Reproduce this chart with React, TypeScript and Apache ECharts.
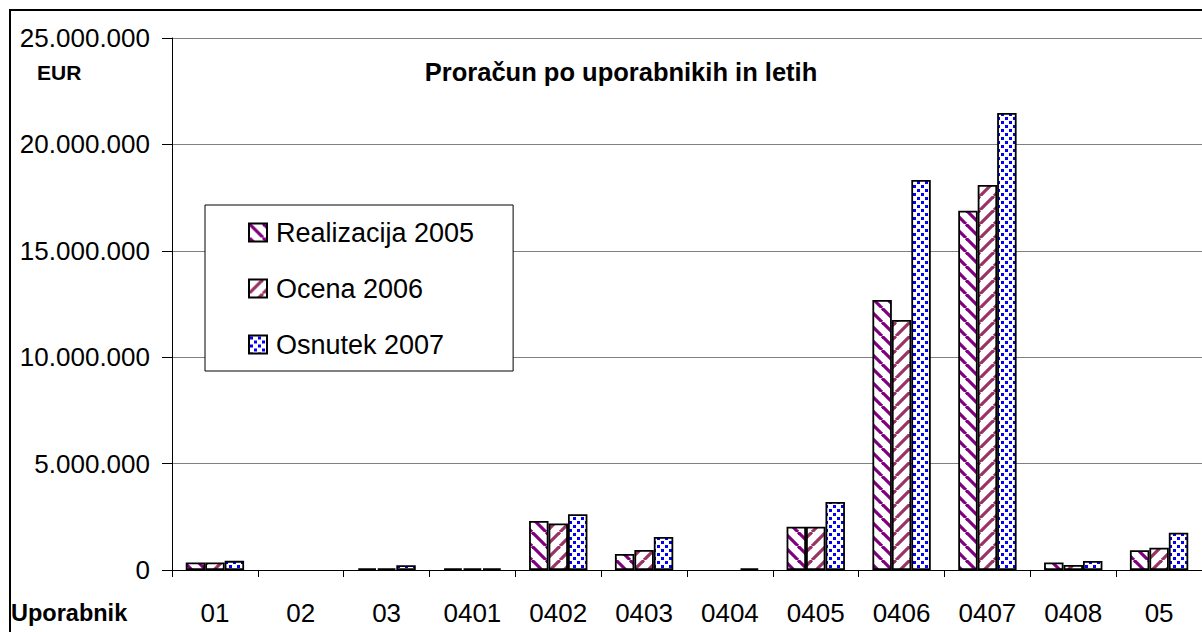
import React, { useEffect, useRef } from "react";
import * as echarts from "echarts";

const categories = ["01", "02", "03", "0401", "0402", "0403", "0404", "0405", "0406", "0407", "0408", "05"];
const realizacija2005 = [350000, 0, 80000, 80000, 2300000, 750000, 0, 2030000, 12690000, 16880000, 350000, 930000];
const ocena2006 = [350000, 0, 80000, 80000, 2190000, 940000, 0, 2030000, 11750000, 18090000, 240000, 1050000];
const osnutek2007 = [430000, 0, 220000, 80000, 2620000, 1550000, 80000, 3200000, 18330000, 21480000, 420000, 1750000];
const yTicks = [0, 5000000, 10000000, 15000000, 20000000, 25000000];
const seriesNames = ["Realizacija 2005", "Ocena 2006", "Osnutek 2007"];

const FONT = "'Liberation Sans', Arial, sans-serif";

function stripePattern(color: string, dir: "down" | "up") {
  const N = 14;
  const c = document.createElement("canvas");
  c.width = N;
  c.height = N;
  const ctx = c.getContext("2d")!;
  ctx.fillStyle = "#fff";
  ctx.fillRect(0, 0, N, N);
  ctx.strokeStyle = color;
  ctx.lineWidth = 3.2;
  for (let k = -1; k <= 1; k++) {
    ctx.beginPath();
    if (dir === "down") {
      ctx.moveTo(k * N, 0);
      ctx.lineTo(k * N + N, N);
    } else {
      ctx.moveTo(k * N, N);
      ctx.lineTo(k * N + N, 0);
    }
    ctx.stroke();
  }
  return { image: c, repeat: "repeat", imageWidth: N, imageHeight: N } as any;
}

function dotPattern(color: string) {
  const N = 8;
  const c = document.createElement("canvas");
  c.width = N;
  c.height = N;
  const ctx = c.getContext("2d")!;
  ctx.fillStyle = "#fff";
  ctx.fillRect(0, 0, N, N);
  ctx.fillStyle = color;
  ctx.fillRect(1, 1, 3, 3);
  ctx.fillRect(5, 5, 3, 3);
  return { image: c, repeat: "repeat", imageWidth: N, imageHeight: N } as any;
}

function fmt(v: number) {
  return String(Math.round(v)).replace(/\B(?=(\d{3})+(?!\d))/g, ".");
}

export default function App() {
  const ref = useRef<HTMLDivElement>(null);
  useEffect(() => {
    if (!ref.current) return;
    const chart = echarts.init(ref.current, null, { renderer: "svg" });
    const fills = [stripePattern("#800080", "down"), stripePattern("#993366", "up"), dotPattern("#0000ff")];
    const dataSets = [realizacija2005, ocena2006, osnutek2007];
    chart.setOption({
      animation: false,
      backgroundColor: "#fff",
      grid: { left: 172, top: 38, width: 1032, height: 532, containLabel: false },
      legend: {
        orient: "vertical",
        left: 205,
        top: 205,
        padding: [14, 39, 13, 43],
        itemWidth: 18,
        itemHeight: 18,
        itemGap: 29,
        icon: "rect",
        borderColor: "#000",
        borderWidth: 1,
        backgroundColor: "#fff",
        textStyle: { fontSize: 27, fontFamily: FONT, color: "#000", padding: [0, 0, 0, 4] },
        data: seriesNames,
      },
      xAxis: {
        type: "category",
        data: categories,
        axisLine: { lineStyle: { color: "#000", width: 1 } },
        axisTick: { show: true, length: 7, lineStyle: { color: "#000" } },
        axisLabel: { fontSize: 26, fontFamily: FONT, color: "#000", margin: 30 },
        splitLine: { show: false },
      },
      yAxis: {
        type: "value",
        min: yTicks[0],
        max: yTicks[yTicks.length - 1],
        interval: yTicks[1] - yTicks[0],
        axisLine: { show: true, lineStyle: { color: "#000", width: 1 } },
        axisTick: { show: true, length: 10, lineStyle: { color: "#000" } },
        axisLabel: { fontSize: 26, fontFamily: FONT, color: "#000", margin: 22, formatter: (v: number) => fmt(v) },
        splitLine: { show: true, lineStyle: { color: "#808080", width: 1 } },
      },
      series: seriesNames.map((name, i) => ({
        name,
        type: "bar",
        data: dataSets[i].map((v) => (v === 0 ? null : v)),
        barGap: "0%",
        barCategoryGap: "32%",
        itemStyle: { color: fills[i], borderColor: "#000", borderWidth: 1.8 },
        emphasis: { disabled: true },
      })),
      graphic: [
        {
          type: "rect",
          shape: { x: 10, y: 10, width: 1200, height: 640 },
          style: { fill: "none", stroke: "#000", lineWidth: 2 },
          silent: true,
          z: 100,
        },
        {
          type: "text",
          left: 37,
          top: 62,
          style: { text: "EUR", font: `bold 21px ${FONT}`, fill: "#000" },
        },
        {
          type: "text",
          x: 621,
          y: 72,
          style: {
            text: "Proračun po uporabnikih in letih",
            font: `bold 25.5px ${FONT}`,
            fill: "#000",
            textAlign: "center",
            textVerticalAlign: "middle",
          },
        },
        {
          type: "text",
          x: 11,
          y: 613,
          style: {
            text: "Uporabnik",
            font: `bold 23.5px ${FONT}`,
            fill: "#000",
            textAlign: "left",
            textVerticalAlign: "middle",
          },
        },
      ],
    });
    return () => chart.dispose();
  }, []);
  return <div ref={ref} style={{ position: "absolute", left: 0, top: 0, width: 1202, height: 632 }} />;
}
